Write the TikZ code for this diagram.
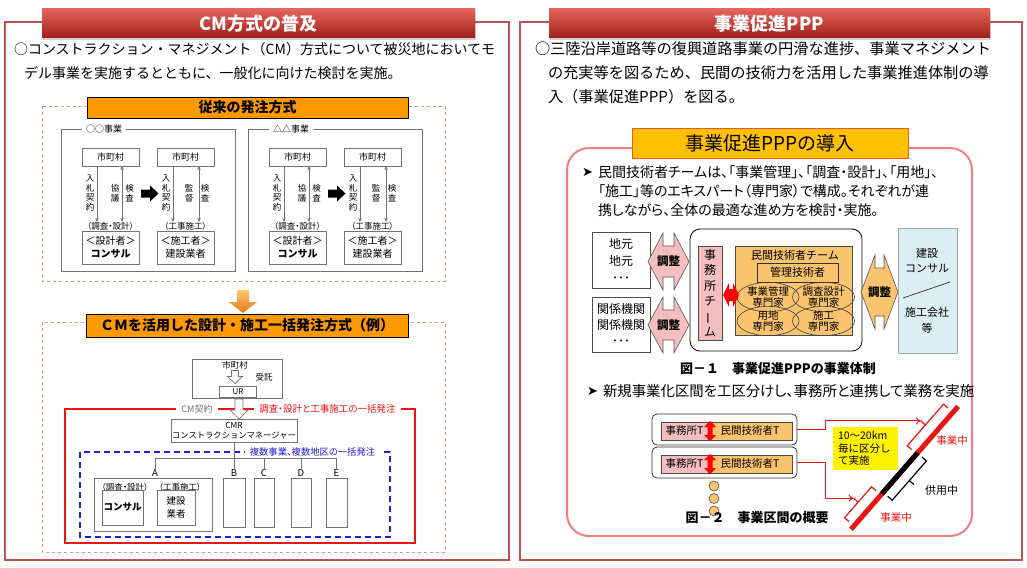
\documentclass[tikz,border=0pt]{standalone}
\usepackage{fontspec}
\usepackage{graphicx}
\setmainfont{Noto Sans CJK JP}
\newfontfamily\pj{Noto Sans CJK JP}[RawFeature=+palt]
\newfontfamily\dvs{DejaVu Sans}
\usetikzlibrary{arrows.meta,shadows,shapes.geometric}
\definecolor{panelc}{RGB}{185,85,80}
\definecolor{hdrA}{RGB}{228,100,90}
\definecolor{hdrB}{RGB}{160,30,25}
\definecolor{orgc}{RGB}{255,153,0}
\definecolor{tanc}{RGB}{215,160,110}
\definecolor{grayb}{RGB}{115,115,115}
\definecolor{pinkc}{RGB}{240,128,128}
\definecolor{goldc}{RGB}{255,192,0}
\definecolor{goldb}{RGB}{235,90,40}
\definecolor{pinkf}{RGB}{244,190,190}
\definecolor{teamc}{RGB}{250,195,110}
\definecolor{cyanc}{RGB}{218,238,243}
\definecolor{bluec}{RGB}{30,30,220}
\definecolor{redc}{RGB}{235,20,20}
\definecolor{arA}{RGB}{252,200,110}
\definecolor{arB}{RGB}{232,120,20}
\newcommand\fsz[2]{\fontsize{#1}{#2}\selectfont}
\begin{document}
\begin{tikzpicture}[x=1pt,y=-1pt,
  every node/.style={inner sep=0pt,outer sep=0pt},
  panel/.style={draw=panelc,line width=2.6pt},
  hdr/.style={top color=hdrA,bottom color=hdrB,text=white,
     drop shadow={opacity=0.35,shadow xshift=1pt,shadow yshift=-2pt},
     minimum width=433,minimum height=29,font=\fsz{18}{18}\bfseries},
  obox/.style={draw=black,line width=0.9pt,fill=orgc,font=\fsz{14}{14}\bfseries},
  dbox/.style={draw=tanc,dashed,line width=0.6pt},
  gbox/.style={draw=grayb,line width=0.7pt},
  sbox/.style={draw=grayb,line width=0.7pt,fill=white},
  sarr/.style={draw=grayb,line width=0.7pt,-{Stealth[length=4pt,width=3.5pt]}},
  darr/.style={draw=grayb,line width=0.7pt,{Stealth[length=4pt,width=3.5pt]}-{Stealth[length=4pt,width=3.5pt]}},
  tbox/.style={draw=gray!60!black,line width=0.6pt},
  ell/.style={draw=black!75,ellipse,line width=0.6pt,minimum width=62,minimum height=24,align=center,font=\fsz{10.5}{11}},
  rarr/.style={draw=redc,line width=1pt,-{To[length=5pt,width=7pt]}},
  brk/.style={line width=1.2pt}
]
\useasboundingbox (0,0) rectangle (1027,567);
\fill[white] (0,0) rectangle (1027,567);

% ================= LEFT PANEL =================
\draw[panel] (5,22) rectangle (509,560);
\node[hdr] (h1) at (258.5,23.5) {CM方式の普及};
\node[anchor=west,font=\fsz{14}{14}] (li1) at (14,49) {○コンストラクション・マネジメント（CM）方式について被災地においてモ};
\node[anchor=west,font=\fsz{14}{14}] (li2) at (24,73) {デル事業を実施するとともに、一般化に向けた検討を実施。};

\draw[dbox] (42,106) rectangle (445,281);
\node[obox,minimum width=321,minimum height=21] (o1) at (247.5,107.5) {従来の発注方式};

\foreach \g/\ox/\lab in {1/0/○○事業,2/187/△△事業}{
  \begin{scope}[xshift=\ox pt]
  \draw[gbox] (61,129) rectangle (235,271);
  \node[fill=white,inner xsep=4pt,font=\fsz{9}{9}] (gl\g) at (104,129) {\lab};
  \node[sbox,minimum width=57,minimum height=18,font=\fsz{9}{9}] (ma\g) at (110.5,157) {市町村};
  \node[sbox,minimum width=57,minimum height=18,font=\fsz{9}{9}] (mb\g) at (185.5,157) {市町村};
  \node[font=\pj\fsz{8.5}{8.5}] (ca\g) at (110.5,226) {（調査・設計）};
  \node[font=\pj\fsz{8.5}{8.5}] (cb\g) at (185.5,226) {（工事施工）};
  \node[sbox,minimum width=57,minimum height=33,align=center,font=\fsz{10}{13}] (ba\g) at (110.5,247.5) {＜設計者＞\\\textbf{コンサル}};
  \node[sbox,minimum width=57,minimum height=33,align=center,font=\fsz{10}{13}] (bb\g) at (185.5,247.5) {＜施工者＞\\建設業者};
  \draw[sarr] ([xshift=-13.5pt]ma\g.south) -- ([xshift=-13.5pt]ca\g.north);
  \draw[darr] ([xshift=11.5pt]ma\g.south) -- ([xshift=11.5pt]ca\g.north);
  \draw[sarr] ([xshift=-12.5pt]mb\g.south) -- ([xshift=-12.5pt]cb\g.north);
  \draw[darr] ([xshift=13.5pt]mb\g.south) -- ([xshift=13.5pt]cb\g.north);
  \node[align=center,font=\fsz{8.5}{9.7}] (va\g) at (90,193) {入\\札\\契\\約};
  \node[align=center,font=\fsz{8.5}{9.7}] (vb\g) at (115,193) {協\\議};
  \node[align=center,font=\fsz{8.5}{9.7}] (vc\g) at (129.5,193) {検\\査};
  \node[align=center,font=\fsz{8.5}{9.7}] (vd\g) at (166,193) {入\\札\\契\\約};
  \node[align=center,font=\fsz{8.5}{9.7}] (ve\g) at (189,193) {監\\督};
  \node[align=center,font=\fsz{8.5}{9.7}] (vf\g) at (205,193) {検\\査};
  \fill[black] (141,189.5) -- (150,189.5) -- (150,185.5) -- (158.5,193.5) -- (150,201.5) -- (150,197.5) -- (141,197.5) -- cycle;
  \end{scope}
}

% orange down arrow
\shade[top color=arA,bottom color=arB] (237,290) -- (249,290) -- (249,302) -- (257,302) -- (243,313) -- (229,302) -- (237,302) -- cycle;

\draw[dbox] (42,322) rectangle (445,552);
\node[obox,minimum width=322,minimum height=23] (o2) at (247,325.5) {ＣＭを活用した設計・施工一括発注方式（例）};

\node[gbox,minimum width=90,minimum height=39] (cmu) at (237,378.5) {};
\node[font=\fsz{8.5}{8.5}] (cmt) at (235,365) {市町村};
\node[gbox,minimum width=37,minimum height=11,font=\fsz{8}{8}] (ur) at (238,391.5) {UR};
\draw[grayb,line width=0.7pt,fill=white] (231.5,370.5) -- (238.5,370.5) -- (238.5,376.5) -- (242.5,376.5) -- (235,383.5) -- (227.5,376.5) -- (231.5,376.5) -- cycle;
\node[font=\fsz{8.5}{8.5}] (jt) at (264,377) {受託};

\draw[redc,line width=1.3pt] (65,409) rectangle (415,543);
\node[fill=white,inner xsep=5pt,inner ysep=2pt,text=gray!90!black,font=\fsz{9}{9}] (cmk) at (197,409) {CM契約};
\node[fill=white,inner xsep=5pt,inner ysep=2pt,text=redc,font=\pj\fsz{9.5}{9.5}] (ikk) at (327.5,409) {調査・設計と工事施工の一括発注};
\draw[grayb,line width=0.7pt,fill=white] (235,399) -- (243,399) -- (243,410) -- (248,410) -- (239,419) -- (230,410) -- (235,410) -- cycle;

\node[gbox,fill=white,minimum width=126,minimum height=23,align=center,font=\fsz{8.3}{10}] (cmr) at (234,430.5) {CMR\\コンストラクションマネージャー};

\draw[bluec,line width=1.4pt,dash pattern=on 6pt off 4pt] (80,452) rectangle (390,537);
\node[fill=white,inner xsep=5pt,inner ysep=2pt,text=bluec,font=\pj\fsz{9.3}{9.3}] (fuk) at (312.5,452) {複数事業、複数地区の一括発注};

\foreach \n/\xx in {A/155,B/234,C/264,D/301,E/336.5}{
  \node[font=\fsz{9.5}{9.5}] (l\n) at (\xx,473.5) {\n};
}
\coordinate (bus) at (234,458);
\draw[grayb,line width=0.8pt] (cmr.south) -- (lB.north);
\draw[grayb,line width=0.8pt] (lA.north) -- (lA.north |- bus) -- (lE.north |- bus) -- (lE.north);
\draw[grayb,line width=0.8pt] (lC.north) -- (lC.north |- bus);
\draw[grayb,line width=0.8pt] (lD.north) -- (lD.north |- bus);

\node[gbox,minimum width=118,minimum height=53] (bxA) at (153,504.5) {};
\node[font=\pj\fsz{8.5}{8.5}] (cA1) at (125,487) {（調査・設計）};
\node[font=\pj\fsz{8.5}{8.5}] (cA2) at (180,487) {（工事施工）};
\node[gbox,minimum width=41,minimum height=35,font=\fsz{9.5}{9.5}\bfseries] (cons) at (122.5,507.5) {コンサル};
\node[gbox,minimum width=38,minimum height=35,align=center,font=\fsz{9.5}{13}] (kgs) at (176,507.5) {建設\\業者};
\node[gbox,minimum width=22,minimum height=49] (bxB) at (234,502.5) {};
\node[gbox,minimum width=20,minimum height=49] (bxC) at (264,502.5) {};
\node[gbox,minimum width=20,minimum height=49] (bxD) at (301,502.5) {};
\node[gbox,minimum width=21,minimum height=49] (bxE) at (336.5,502.5) {};

% ================= RIGHT PANEL =================
\draw[panel] (520,22) rectangle (1022,560);
\node[hdr,minimum width=441] (h2) at (769.5,23.5) {事業促進PPP};
\node[anchor=west,font=\fsz{15.2}{15.2}] (ri1) at (535,49) {○三陸沿岸道路等の復興道路事業の円滑な進捗、事業マネジメント};
\node[anchor=west,font=\fsz{15.2}{15.2}] (ri2) at (548,73) {の充実等を図るため、民間の技術力を活用した事業推進体制の導};
\node[anchor=west,font=\fsz{15.2}{15.2}] (ri3) at (548,97) {入（事業促進PPP）を図る。};

\draw[pinkc,line width=2pt,rounded corners=22] (567,148) rectangle (972,536);
\node[draw=goldb,line width=1pt,fill=goldc,minimum width=276,minimum height=30,font=\fsz{19}{19}] (t3) at (770,143) {事業促進PPPの導入};

\node[anchor=west,font=\dvs\fsz{13}{13}] (bu1) at (582,172) {➤};
\node[anchor=west,font=\pj\fsz{14}{14}] (b11) at (598,172) {民間技術者チームは、「事業管理」、「調査・設計」、「用地」、};
\node[anchor=west,font=\pj\fsz{14}{14}] (b12) at (598,191) {「施工」等のエキスパート（専門家）で構成。それぞれが連};
\node[anchor=west,font=\pj\fsz{14}{14}] (b13) at (598,210) {携しながら、全体の最適な進め方を検討・実施。};

% Figure 1
\node[tbox,minimum width=58,minimum height=56,align=center,font=\fsz{12}{17}] (jm) at (621,260) {地元\\地元\\･･･};
\node[tbox,minimum width=58,minimum height=55,align=center,font=\fsz{12}{16}] (kk) at (621,324.5) {関係機関\\関係機関\\･･･};
\draw[gray!70!black,line width=0.6pt,fill=pinkf] (648,261.5) -- (663,233) -- (663,246) -- (674,246) -- (674,233) -- (689,261.5) -- (674,290) -- (674,277) -- (663,277) -- (663,290) -- cycle;
\node[font=\fsz{11.5}{11.5}\bfseries] (cho1) at (668.5,261.5) {調整};
\draw[gray!70!black,line width=0.6pt,fill=pinkf] (648,325) -- (663,297) -- (663,310) -- (674,310) -- (674,297) -- (689,325) -- (674,353) -- (674,340) -- (663,340) -- (663,353) -- cycle;
\node[font=\fsz{11.5}{11.5}\bfseries] (cho2) at (668.5,325) {調整};

\node[draw=black,line width=0.8pt,rounded corners=10,minimum width=172,minimum height=122] (bigr) at (776,290) {};
\node[tbox,fill=pinkf,minimum width=24,minimum height=94,align=center,font=\fsz{12}{15.5}] (jmt) at (710,293) {事\\務\\所\\チ\\\rotatebox[origin=c]{90}{ー}\\ム};
\node[tbox,fill=teamc,minimum width=117,minimum height=89] (team) at (793.5,290.5) {};
\node[font=\fsz{11}{11}] (tmt) at (795,255) {民間技術者チーム};
\node[draw=black!80,line width=0.7pt,fill=teamc,minimum width=81,minimum height=19,font=\fsz{11}{11}] (kanri) at (797.5,272.5) {管理技術者};
\node[ell] (e1) at (768,297) {事業管理\\専門家};
\node[ell] (e2) at (823.5,297) {調査設計\\専門家};
\node[ell] (e3) at (768,321) {用地\\専門家};
\node[ell] (e4) at (823.5,321) {施工\\専門家};
\fill[red] (723,295) -- (729,283) -- (729,289) -- (733,289) -- (733,283) -- (739,295) -- (733,307) -- (733,301) -- (729,301) -- (729,307) -- cycle;

\draw[gray!70!black,line width=0.6pt,fill=teamc] (861,292) -- (875,255) -- (875,268) -- (884,268) -- (884,255) -- (898,292) -- (884,329) -- (884,316) -- (875,316) -- (875,329) -- cycle;
\node[font=\fsz{11.5}{11.5}\bfseries] (cho3) at (879.5,292) {調整};
\node[draw=gray!70,line width=0.6pt,fill=cyanc,minimum width=59,minimum height=125] (ken) at (927.5,290.5) {};
\node[font=\fsz{11}{11}] (k1) at (927,253) {建設};
\node[font=\fsz{11}{11}] (k2) at (927,268) {コンサル};
\node[font=\fsz{11}{11}] (k3) at (927,312) {施工会社};
\node[font=\fsz{11}{11}] (k4) at (927,328) {等};
\draw[black!80,line width=0.7pt] (903,298) -- (950,282);

\node[font=\fsz{13}{13}\bfseries] (cap1) at (778,369) {図－１　事業促進PPPの事業体制};

\node[anchor=west,font=\dvs\fsz{13}{13}] (bu2) at (587,391) {➤};
\node[anchor=west,font=\pj\fsz{14.4}{14.4}] (b21) at (603,391) {新規事業化区間を工区分けし、事務所と連携して業務を実施};

% Figure 2
\node[draw=black!80,line width=0.8pt,rounded corners=5,minimum width=145,minimum height=31] (f2a) at (724.5,429.5) {};
\node[draw=black!80,line width=0.8pt,rounded corners=5,minimum width=145,minimum height=31] (f2b) at (724.5,462.5) {};
\foreach \k/\yy in {a/431,b/464}{
  \node[tbox,fill=pinkf,minimum width=47,minimum height=18,font=\fsz{10.5}{10.5}] (js\k) at (684.5,\yy) {事務所T};
  \node[tbox,fill=teamc,minimum width=84,minimum height=18,font=\fsz{10.5}{10.5}] (mk\k) at (750,\yy) {民間技術者T};
  \fill[red] (710,\yy-10) -- (716,\yy-4) -- (712.5,\yy-4) -- (712.5,\yy+4) -- (716,\yy+4) -- (710,\yy+10) -- (704,\yy+4) -- (707.5,\yy+4) -- (707.5,\yy-4) -- (704,\yy-4) -- cycle;
}
\foreach \i/\yy in {1/486,2/498.5,3/511}{
  \node[circle,draw=gray!60!black,line width=0.6pt,fill=teamc,minimum size=10] (cc\i) at (714,\yy) {};
}
\node[font=\fsz{13}{13}\bfseries] (cap2) at (757,518) {図－２　事業区間の概要};

\node[fill=yellow,minimum width=65,minimum height=43] (yl) at (865.5,448.5) {};
\node[anchor=west,align=left,font=\fsz{10.5}{12.5}] (ylt) at (838,448.5) {10～20km\\毎に区分し\\て実施};

% road
\draw[redc,line width=5pt] (851.0,529.3) -- (958.1,406.4);
\draw[black,line width=5pt] (881.9,493.8) -- (917.7,452.7);
\coordinate (tkU) at (920.9,420.9);
\coordinate (tkL) at (853.6,498.2);
\coordinate (tkK) at (913.9,484.5);
\draw[brk,redc] (911.8,449.6) -- (907.3,445.7) -- (943.5,404.2) -- (948.0,408.1);
\draw[brk,redc] (925.4,424.9) -- (tkU);
\draw[brk,redc] (849.1,521.6) -- (844.6,517.7) -- (871.5,486.8) -- (876.0,490.7);
\draw[brk,redc] (858.1,502.2) -- (tkL);
\draw[brk,black] (887.7,496.2) -- (892.2,500.2) -- (926.4,461.0) -- (921.9,457.0);
\draw[brk,black] (909.3,480.6) -- (tkK);

\draw[rarr] (f2a.east) -- (825,429.5) |- (tkU);
\draw[rarr] (f2b.east) -- (825,462.5) |- (tkL);

\node[text=redc,font=\fsz{10.5}{10.5}] (jg1) at (952,441) {事業中};
\node[text=redc,font=\fsz{10.5}{10.5}] (jg2) at (896,518) {事業中};
\node[anchor=west,font=\fsz{11}{11}] (kyo) at (925,490) {供用中};
\end{tikzpicture}
\end{document}
